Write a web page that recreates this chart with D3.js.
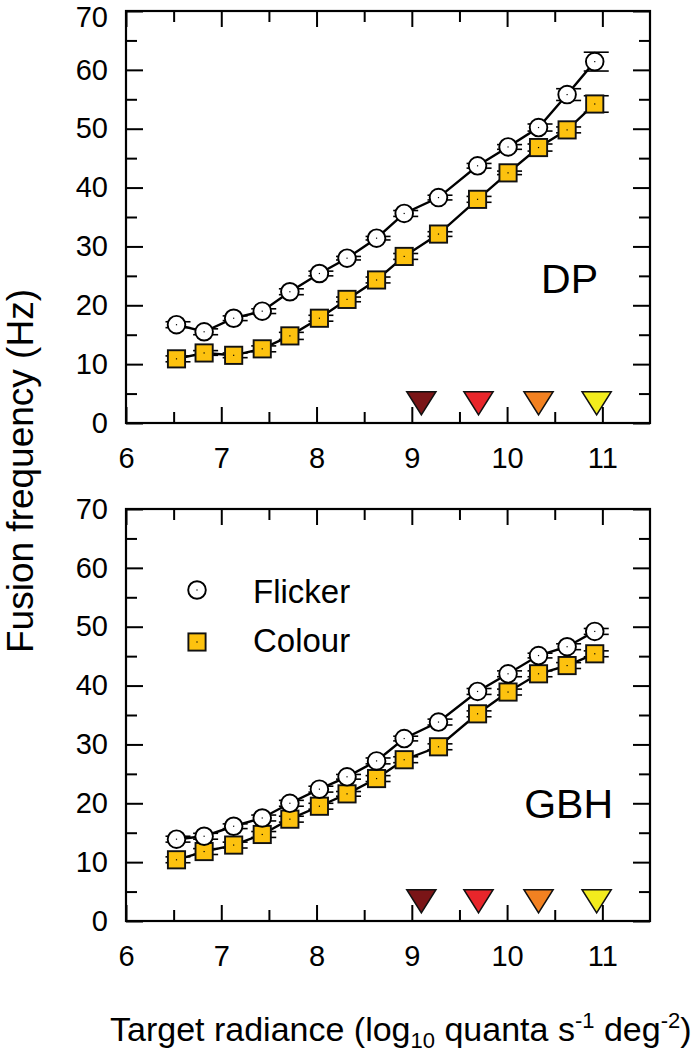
<!DOCTYPE html>
<html><head><meta charset="utf-8">
<script src="https://cdn.jsdelivr.net/npm/d3@7"></script>
<style>body{margin:0;background:#fff}svg{display:block;font-family:"Liberation Sans",Arial,sans-serif}</style>
</head><body>
<svg id="chart" width="691" height="1052"></svg>
<script>
// ---- data ----
const radiance = [6.53, 6.82, 7.13, 7.43, 7.72, 8.03, 8.32, 8.63, 8.92, 9.28, 9.69, 10.01, 10.33, 10.63, 10.92];
const dpFlicker = [16.7, 15.5, 17.8, 19.0, 22.3, 25.4, 28.0, 31.4, 35.6, 38.3, 43.7, 46.9, 50.2, 55.8, 61.4];
const dpFlickerErr = [0.5, 0.5, 0.4, 0.4, 0.5, 0.4, 0.3, 0.3, 0.5, 0.4, 0.4, 0.4, 0.6, 1.0, 1.6];
const dpColour = [10.9, 11.9, 11.5, 12.6, 14.8, 17.8, 21.0, 24.3, 28.3, 32.1, 38.0, 42.5, 46.8, 49.8, 54.2];
const dpColourErr = [0.5, 0.4, 0.4, 0.5, 0.6, 0.5, 0.4, 0.5, 0.5, 0.4, 0.5, 0.3, 0.6, 0.5, 1.4];
const gbhFlicker = [13.9, 14.4, 16.1, 17.5, 20.0, 22.4, 24.5, 27.2, 31.0, 33.8, 39.0, 42.0, 45.1, 46.6, 49.2];
const gbhFlickerErr = [0.5, 0.5, 0.4, 0.5, 0.5, 0.5, 0.4, 0.5, 0.4, 0.5, 0.5, 0.5, 0.4, 0.5, 0.5];
const gbhColour = [10.4, 11.8, 12.9, 14.7, 17.3, 19.5, 21.6, 24.2, 27.4, 29.6, 35.2, 38.9, 42.0, 43.4, 45.4];
const gbhColourErr = [0.5, 0.5, 0.5, 0.5, 0.5, 0.5, 0.4, 0.5, 0.5, 0.5, 0.5, 0.5, 0.5, 0.5, 0.5];
const arrowX = [9.10, 9.70, 10.33, 10.94];
const arrowTop = 5.3;
const arrowColors = ["#7a1517", "#e8262b", "#f28121", "#f3ec1d"];
const xMajor = [6, 7, 8, 9, 10, 11];
const xMinor = [6.5, 7.5, 8.5, 9.5, 10.5];
const yMajor = [0, 10, 20, 30, 40, 50, 60, 70];
const yMinor = [5, 15, 25, 35, 45, 55, 65];
const panels = [
  {name: "DP", flicker: dpFlicker, fErr: dpFlickerErr, colour: dpColour, cErr: dpColourErr, top: 11, bottom: 423, labelX: 598, labelY: 293},
  {name: "GBH", flicker: gbhFlicker, fErr: gbhFlickerErr, colour: gbhColour, cErr: gbhColourErr, top: 509, bottom: 921, labelX: 613, labelY: 818}
];
const squareFill = "#fdc20f";

// ---- drawing ----
const svg = d3.select("#chart");
const x = d3.scaleLinear().domain([6, 11.5]).range([126, 650]);

panels.forEach((p, pi) => {
  const y = d3.scaleLinear().domain([0, 70]).range([p.bottom, p.top]);
  const g = svg.append("g");
  const styleAxis = sel => {
    sel.select(".domain").remove();
    sel.selectAll("line").attr("stroke", "#000").attr("stroke-width", 2);
    sel.selectAll("text").attr("fill", "#000").style("font-size", "29px").style("font-family", '"Liberation Sans",Arial,sans-serif');
  };
  g.append("g").attr("transform", `translate(0,${p.bottom})`)
    .call(d3.axisBottom(x).tickValues(xMajor).tickSize(-16).tickPadding(24).tickFormat(d3.format("d"))).call(styleAxis);
  g.append("g").attr("transform", `translate(0,${p.bottom})`)
    .call(d3.axisBottom(x).tickValues(xMinor).tickSize(-11).tickFormat("")).call(styleAxis);
  g.append("g").attr("transform", `translate(0,${p.top})`)
    .call(d3.axisTop(x).tickValues(xMajor).tickSize(-16).tickFormat("")).call(styleAxis);
  g.append("g").attr("transform", `translate(0,${p.top})`)
    .call(d3.axisTop(x).tickValues(xMinor).tickSize(-11).tickFormat("")).call(styleAxis);
  const yl = g.append("g").attr("transform", `translate(${x.range()[0]},0)`)
    .call(d3.axisLeft(y).tickValues(yMajor).tickSize(-17).tickPadding(18).tickFormat(d3.format("d"))).call(styleAxis);
  if (pi === 0) {
    // keep the top label inside the picture
    yl.selectAll(".tick text").filter(d => d === 70).attr("dy", "0.52em");
  }
  g.append("g").attr("transform", `translate(${x.range()[0]},0)`)
    .call(d3.axisLeft(y).tickValues(yMinor).tickSize(-11).tickFormat("")).call(styleAxis);
  g.append("g").attr("transform", `translate(${x.range()[1]},0)`)
    .call(d3.axisRight(y).tickValues(yMajor).tickSize(-17).tickFormat("")).call(styleAxis);
  g.append("g").attr("transform", `translate(${x.range()[1]},0)`)
    .call(d3.axisRight(y).tickValues(yMinor).tickSize(-11).tickFormat("")).call(styleAxis);
  g.append("rect").attr("x", x.range()[0]).attr("y", p.top)
    .attr("width", x.range()[1] - x.range()[0]).attr("height", p.bottom - p.top)
    .attr("fill", "none").attr("stroke", "#000").attr("stroke-width", 2.2);

  g.selectAll(".tri").data(arrowX).join("path")
    .attr("d", d => {
      const cx = x(d), ty = y(arrowTop);
      return `M${cx - 14.5},${ty}L${cx + 14.5},${ty}L${cx},${ty + 23}Z`;
    })
    .attr("fill", (d, i) => arrowColors[i]).attr("stroke", "#111").attr("stroke-width", 1.6);

  const line = d3.line().x((d, i) => x(radiance[i])).y(d => y(d));
  const series = [
    {vals: p.colour, err: p.cErr, type: "square"},
    {vals: p.flicker, err: p.fErr, type: "circle"}
  ];
  series.forEach(s => {
    g.append("path").datum(s.vals).attr("d", line).attr("fill", "none")
      .attr("stroke", "#000").attr("stroke-width", 2.4);
  });
  series.forEach(s => {
    const eb = g.append("g");
    s.vals.forEach((v, i) => {
      const cx = x(radiance[i]);
      const y1 = y(v - s.err[i]), y2 = y(v + s.err[i]);
      eb.append("line").attr("x1", cx).attr("x2", cx).attr("y1", y1).attr("y2", y2).attr("stroke", "#000").attr("stroke-width", 1.6);
      [y1, y2].forEach(yy => eb.append("line").attr("x1", cx - 11).attr("x2", cx + 14).attr("y1", yy).attr("y2", yy)
        .attr("stroke", "#000").attr("stroke-width", 1.6));
    });
  });
  series.forEach(s => {
    const mg = g.append("g");
    s.vals.forEach((v, i) => {
      const cx = x(radiance[i]), cy = y(v);
      if (s.type === "circle") {
        mg.append("circle").attr("cx", cx).attr("cy", cy).attr("r", 8.8).attr("fill", "#fff").attr("stroke", "#000").attr("stroke-width", 1.9);
      } else {
        mg.append("rect").attr("x", cx - 8.6).attr("y", cy - 8.6).attr("width", 17.2).attr("height", 17.2)
          .attr("fill", squareFill).attr("stroke", "#111").attr("stroke-width", 1.9);
      }
      mg.append("rect").attr("x", cx - 0.6).attr("y", cy - 0.6).attr("width", 1.2).attr("height", 1.2).attr("fill", "#000");
    });
  });

  g.append("text").attr("x", p.labelX).attr("y", p.labelY).attr("text-anchor", "end")
    .style("font-size", "41px").text(p.name);

  if (pi === 1) {
    const lg = g.append("g");
    lg.append("circle").attr("cx", 197).attr("cy", 590).attr("r", 8.8).attr("fill", "#fff").attr("stroke", "#000").attr("stroke-width", 1.9);
    lg.append("rect").attr("x", 196.4).attr("y", 589.4).attr("width", 1.2).attr("height", 1.2).attr("fill", "#000");
    lg.append("rect").attr("x", 188.4).attr("y", 633.4).attr("width", 17.2).attr("height", 17.2).attr("fill", squareFill).attr("stroke", "#111").attr("stroke-width", 1.9);
    lg.append("rect").attr("x", 196.4).attr("y", 641.4).attr("width", 1.2).attr("height", 1.2).attr("fill", "#000");
    lg.append("text").attr("x", 253).attr("y", 603).style("font-size", "33px").text("Flicker");
    lg.append("text").attr("x", 253).attr("y", 652).style("font-size", "33px").text("Colour");
  }
});

// axis titles
svg.append("text").attr("transform", "translate(33,471) rotate(-90)").attr("text-anchor", "middle")
  .style("font-size", "37px").text("Fusion frequency (Hz)");
const xt = svg.append("text").attr("x", 110).attr("y", 1041).style("font-size", "34px");
xt.append("tspan").text("Target radiance (log");
xt.append("tspan").attr("dy", 7).style("font-size", "22px").text("10");
xt.append("tspan").attr("dy", -7).text(" quanta s");
xt.append("tspan").attr("dy", -13).style("font-size", "22px").text("-1");
xt.append("tspan").attr("dy", 13).text(" deg");
xt.append("tspan").attr("dy", -13).style("font-size", "22px").text("-2");
xt.append("tspan").attr("dy", 13).text(")");
</script>
</body></html>
